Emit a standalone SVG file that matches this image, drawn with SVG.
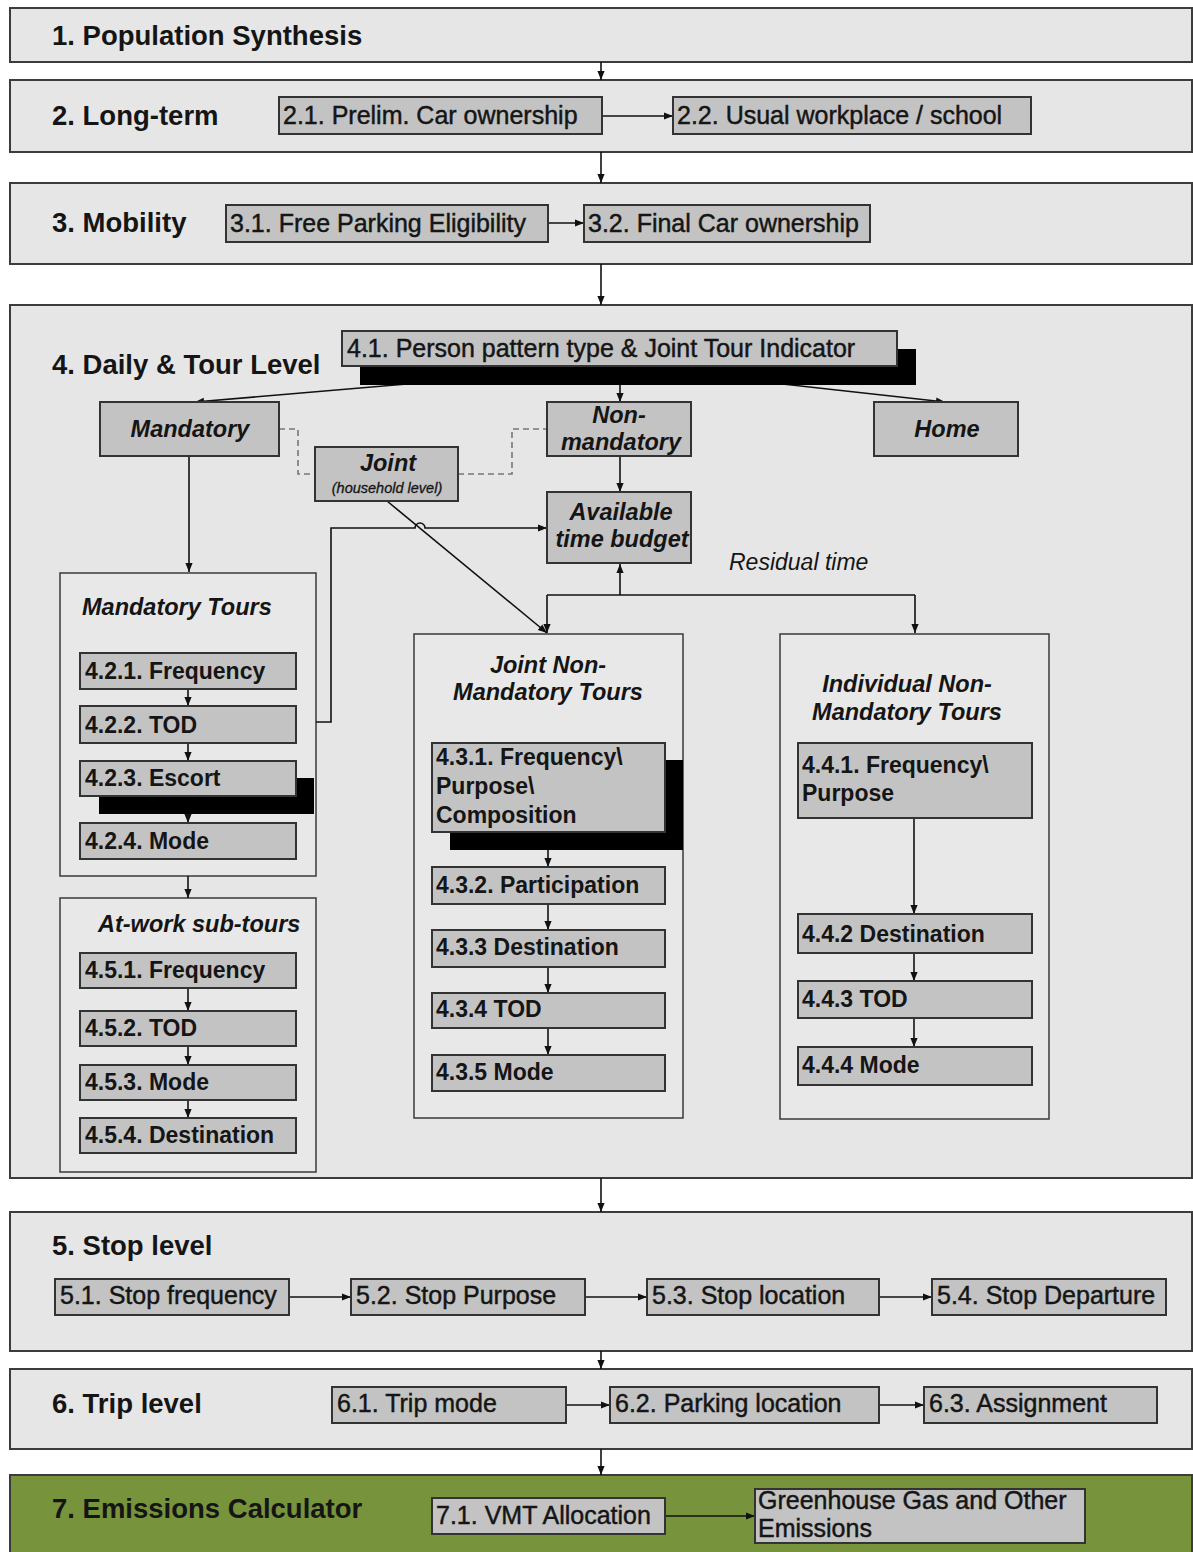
<svg xmlns="http://www.w3.org/2000/svg" width="1193" height="1552" viewBox="0 0 1193 1552">
<defs>
<marker id="ah" viewBox="0 0 10 10" refX="10" refY="5" markerWidth="10" markerHeight="9" markerUnits="userSpaceOnUse" orient="auto"><path d="M0,1 L10,5 L0,9 z" fill="#111"/></marker>
<style>
.sec{fill:#e6e6e6;stroke:#3c3c3c;stroke-width:2}
.green{fill:#77933c;stroke:#3c3c3c;stroke-width:2}
.box{fill:#c3c3c3;stroke:#333;stroke-width:2}
.cont{fill:#e8e8e8;stroke:#444;stroke-width:1.6}
.shadow{fill:#000}
text{font-family:"Liberation Sans",Arial,sans-serif;fill:#151515}
.hdr{font-size:27.5px;font-weight:bold}
.lbl{font-size:25px;stroke:#151515;stroke-width:0.45}
.lb{font-size:23px;font-weight:bold}
.cat{font-size:23.5px;font-weight:bold;font-style:italic}
.it{font-size:23px;font-style:italic}
.sm{font-size:14.5px;font-style:italic;stroke:#151515;stroke-width:0.3}
.ln{stroke:#111;stroke-width:1.6;fill:none}
.arr{stroke:#111;stroke-width:1.6;fill:none;marker-end:url(#ah)}
.dash{stroke:#777;stroke-width:1.6;stroke-dasharray:6 4;fill:none}
</style>
</defs>
<rect width="1193" height="1552" fill="#fff"/>

<g id="sections">
<g id="s1"><rect class="sec" x="10" y="8" width="1182" height="54"/><text class="hdr" x="52" y="45">1. Population Synthesis</text></g>
<g id="s2"><rect class="sec" x="10" y="80" width="1182" height="72"/><text class="hdr" x="52" y="125">2. Long-term</text></g>
<g id="s3"><rect class="sec" x="10" y="183" width="1182" height="81"/><text class="hdr" x="52" y="232">3. Mobility</text></g>
<g id="s4"><rect class="sec" x="10" y="305" width="1182" height="873"/><text class="hdr" x="52" y="374">4. Daily &amp; Tour Level</text></g>
<g id="s5"><rect class="sec" x="10" y="1212" width="1182" height="139"/><text class="hdr" x="52" y="1255">5. Stop level</text></g>
<g id="s6"><rect class="sec" x="10" y="1369" width="1182" height="80"/><text class="hdr" x="52" y="1413">6. Trip level</text></g>
<g id="s7"><rect class="green" x="10" y="1475" width="1182" height="90"/><text class="hdr" x="52" y="1518">7. Emissions Calculator</text></g>
</g>

<g id="containers">
<g id="mand-tours"><rect class="cont" x="60" y="573" width="256" height="303"/><text class="cat" x="82" y="615">Mandatory Tours</text></g>
<g id="atwork"><rect class="cont" x="60" y="898" width="256" height="274"/><text class="cat" x="98" y="932">At-work sub-tours</text></g>
<g id="joint-nm"><rect class="cont" x="414" y="634" width="269" height="484"/><text class="cat" x="548" y="673" text-anchor="middle">Joint Non-</text><text class="cat" x="548" y="700" text-anchor="middle">Mandatory Tours</text></g>
<g id="indiv-nm"><rect class="cont" x="780" y="634" width="269" height="485"/><text class="cat" x="907" y="692" text-anchor="middle">Individual Non-</text><text class="cat" x="907" y="720" text-anchor="middle">Mandatory Tours</text></g>
</g>

<g id="connectors">
<path class="arr" d="M601,62 V80"/>
<path class="arr" d="M601,152 V183"/>
<path class="arr" d="M601,264 V305"/>
<path class="arr" d="M602,116 H673"/>
<path class="arr" d="M548,223 H584"/>
<path class="arr" d="M620,366 L195,402"/>
<path class="arr" d="M620,366 L945,402"/>
<path class="arr" d="M620,366 V402"/>
<path class="arr" d="M620,456 V492"/>
<path class="arr" d="M189,456 V572"/>
<path class="dash" d="M279,429 H298 V474 H315"/>
<path class="dash" d="M458,474 H512 V429 H547"/>
<path class="arr" d="M387,501 L547,633"/>
<path class="arr" d="M316,722 H331 V528 H415 A5,5 0 0 1 425,528 H547"/>
<path class="arr" d="M620,595 V564"/>
<path class="ln" d="M547,595 H915"/>
<path class="arr" d="M547,595 V633"/>
<path class="arr" d="M915,595 V633"/>
<path class="arr" d="M188,689 V706"/>
<path class="arr" d="M188,743 V761"/>
<path class="arr" d="M188,796 V823"/>
<path class="arr" d="M188,876 V898"/>
<path class="arr" d="M188,988 V1011"/>
<path class="arr" d="M188,1046 V1065"/>
<path class="arr" d="M188,1100 V1118"/>
<path class="arr" d="M548,832 V867"/>
<path class="arr" d="M548,904 V930"/>
<path class="arr" d="M548,967 V993"/>
<path class="arr" d="M548,1028 V1055"/>
<path class="arr" d="M914,818 V914"/>
<path class="arr" d="M914,953 V981"/>
<path class="arr" d="M914,1018 V1047"/>
<path class="arr" d="M601,1178 V1212"/>
<path class="arr" d="M289,1297 H351"/>
<path class="arr" d="M585,1297 H647"/>
<path class="arr" d="M879,1297 H932"/>
<path class="arr" d="M601,1351 V1369"/>
<path class="arr" d="M566,1405 H610"/>
<path class="arr" d="M879,1405 H924"/>
<path class="arr" d="M601,1449 V1475"/>
<path class="arr" d="M665,1516 H755"/>
</g>

<g id="nodes">
<g id="n21"><rect class="box" x="279" y="97" width="323" height="37"/><text class="lbl" x="283" y="124">2.1. Prelim. Car ownership</text></g>
<g id="n22"><rect class="box" x="673" y="97" width="358" height="37"/><text class="lbl" x="677" y="124">2.2. Usual workplace / school</text></g>
<g id="n31"><rect class="box" x="226" y="205" width="322" height="37"/><text class="lbl" x="230" y="232">3.1. Free Parking Eligibility</text></g>
<g id="n32"><rect class="box" x="584" y="205" width="286" height="37"/><text class="lbl" x="588" y="232">3.2. Final Car ownership</text></g>
<g id="n41"><rect class="shadow" x="360" y="349" width="556" height="36"/><rect class="box" x="342" y="331" width="555" height="35"/><text class="lbl" x="347" y="357">4.1. Person pattern type &amp; Joint Tour Indicator</text></g>
<g id="mandatory"><rect class="box" x="100" y="402" width="179" height="54"/><text class="cat" x="190" y="437" text-anchor="middle">Mandatory</text></g>
<g id="nonmandatory"><rect class="box" x="547" y="402" width="144" height="54"/><text class="cat" x="619" y="423" text-anchor="middle">Non-</text><text class="cat" x="621" y="450" text-anchor="middle">mandatory</text></g>
<g id="home"><rect class="box" x="874" y="402" width="144" height="54"/><text class="cat" x="947" y="437" text-anchor="middle">Home</text></g>
<g id="joint"><rect class="box" x="315" y="447" width="143" height="54"/><text class="cat" x="388" y="471" text-anchor="middle">Joint</text><text class="sm" x="387" y="493" text-anchor="middle">(household level)</text></g>
<g id="budget"><rect class="box" x="547" y="492" width="144" height="71"/><text class="cat" x="621" y="520" text-anchor="middle">Available</text><text class="cat" x="622" y="547" text-anchor="middle">time budget</text></g>
<g id="residual"><text class="it" x="729" y="570">Residual time</text></g>
<g id="n421"><rect class="box" x="80" y="653" width="216" height="36"/><text class="lb" x="85" y="679">4.2.1. Frequency</text></g>
<g id="n422"><rect class="box" x="80" y="706" width="216" height="37"/><text class="lb" x="85" y="733">4.2.2. TOD</text></g>
<g id="n423"><rect class="shadow" x="99" y="778" width="215" height="36"/><rect class="box" x="80" y="761" width="216" height="35"/><text class="lb" x="85" y="786">4.2.3. Escort</text></g>
<g id="n424"><rect class="box" x="80" y="823" width="216" height="36"/><text class="lb" x="85" y="849">4.2.4. Mode</text></g>
<g id="n451"><rect class="box" x="80" y="953" width="216" height="35"/><text class="lb" x="85" y="978">4.5.1. Frequency</text></g>
<g id="n452"><rect class="box" x="80" y="1011" width="216" height="35"/><text class="lb" x="85" y="1036">4.5.2. TOD</text></g>
<g id="n453"><rect class="box" x="80" y="1065" width="216" height="35"/><text class="lb" x="85" y="1090">4.5.3. Mode</text></g>
<g id="n454"><rect class="box" x="80" y="1118" width="216" height="35"/><text class="lb" x="85" y="1143">4.5.4. Destination</text></g>
<g id="n431"><rect class="shadow" x="450" y="760" width="233" height="90"/><rect class="box" x="432" y="743" width="233" height="89"/><text class="lb" x="436" y="765">4.3.1. Frequency\</text><text class="lb" x="436" y="794">Purpose\</text><text class="lb" x="436" y="823">Composition</text></g>
<g id="n432"><rect class="box" x="432" y="867" width="233" height="37"/><text class="lb" x="436" y="893">4.3.2. Participation</text></g>
<g id="n433"><rect class="box" x="432" y="930" width="233" height="37"/><text class="lb" x="436" y="955">4.3.3 Destination</text></g>
<g id="n434"><rect class="box" x="432" y="993" width="233" height="35"/><text class="lb" x="436" y="1017">4.3.4 TOD</text></g>
<g id="n435"><rect class="box" x="432" y="1055" width="233" height="36"/><text class="lb" x="436" y="1080">4.3.5 Mode</text></g>
<g id="n441"><rect class="box" x="798" y="743" width="234" height="75"/><text class="lb" x="802" y="773">4.4.1. Frequency\</text><text class="lb" x="802" y="801">Purpose</text></g>
<g id="n442"><rect class="box" x="798" y="914" width="234" height="39"/><text class="lb" x="802" y="942">4.4.2 Destination</text></g>
<g id="n443"><rect class="box" x="798" y="981" width="234" height="37"/><text class="lb" x="802" y="1007">4.4.3 TOD</text></g>
<g id="n444"><rect class="box" x="798" y="1047" width="234" height="38"/><text class="lb" x="802" y="1073">4.4.4 Mode</text></g>
<g id="n51"><rect class="box" x="55" y="1279" width="234" height="36"/><text class="lbl" x="60" y="1304">5.1. Stop frequency</text></g>
<g id="n52"><rect class="box" x="351" y="1279" width="234" height="36"/><text class="lbl" x="356" y="1304">5.2. Stop Purpose</text></g>
<g id="n53"><rect class="box" x="647" y="1279" width="232" height="36"/><text class="lbl" x="652" y="1304">5.3. Stop location</text></g>
<g id="n54"><rect class="box" x="932" y="1279" width="234" height="36"/><text class="lbl" x="937" y="1304">5.4. Stop Departure</text></g>
<g id="n61"><rect class="box" x="332" y="1387" width="234" height="36"/><text class="lbl" x="337" y="1412">6.1. Trip mode</text></g>
<g id="n62"><rect class="box" x="610" y="1387" width="269" height="36"/><text class="lbl" x="615" y="1412">6.2. Parking location</text></g>
<g id="n63"><rect class="box" x="924" y="1387" width="233" height="36"/><text class="lbl" x="929" y="1412">6.3. Assignment</text></g>
<g id="n71"><rect class="box" x="432" y="1498" width="233" height="36"/><text class="lbl" x="436" y="1524">7.1. VMT Allocation</text></g>
<g id="ghg"><rect class="box" x="755" y="1489" width="330" height="54"/><text class="lbl" x="758" y="1509">Greenhouse Gas and Other</text><text class="lbl" x="758" y="1537">Emissions</text></g>
</g>
</svg>
